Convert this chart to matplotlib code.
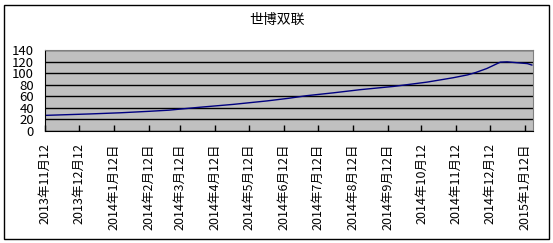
import numpy as np
import pandas as pd
import matplotlib
matplotlib.use("Agg")
import matplotlib.pyplot as plt
import matplotlib.dates as mdates
from matplotlib.patches import Rectangle

plt.rcParams['font.family'] = ['Noto Sans CJK SC', 'DejaVu Sans']

title = '世博双联'
dates = ['2013-11-12', '2013-12-22', '2014-01-18', '2014-02-12', '2014-03-02',
         '2014-03-10', '2014-03-29', '2014-04-28', '2014-05-28', '2014-06-16',
         '2014-07-02', '2014-07-26', '2014-08-19', '2014-09-17', '2014-10-17',
         '2014-11-09', '2014-11-22', '2014-11-29', '2014-12-09', '2014-12-21',
         '2014-12-27', '2015-01-05', '2015-01-14', '2015-01-18']
values = [27, 29.5, 31.5, 34, 36,
          37.5, 41, 46, 52, 56.5,
          61, 66, 71.5, 77, 84.5,
          92, 97, 101, 108, 119,
          119.5, 118, 116.5, 114]
tick_dates = ['2013-11-12', '2013-12-12', '2014-01-12', '2014-02-12', '2014-03-12',
              '2014-04-12', '2014-05-12', '2014-06-12', '2014-07-12', '2014-08-12',
              '2014-09-12', '2014-10-12', '2014-11-12', '2014-12-12', '2015-01-12']
tick_labels = ['2013年11月12', '2013年12月12', '2014年1月12日', '2014年2月12日',
               '2014年3月12日', '2014年4月12日', '2014年5月12日', '2014年6月12日',
               '2014年7月12日', '2014年8月12日', '2014年9月12日', '2014年10月12',
               '2014年11月12', '2014年12月12', '2015年1月12日']

x = pd.to_datetime(dates)
xt = pd.to_datetime(tick_dates)

fig = plt.figure(figsize=(5.53, 2.43), dpi=100)
fig.patches.append(Rectangle((4 / 553, 1 - 239 / 243), 545 / 553, 234 / 243,
                             transform=fig.transFigure, fill=False,
                             edgecolor='black', linewidth=1.0))
ax = fig.add_axes([45 / 553, 1 - 131 / 243, 488 / 553, 81 / 243])
ax.set_facecolor('#c0c0c0')

ax.plot(x, values, color='#000080', linewidth=1.0)

ax.set_xlim(pd.Timestamp('2013-11-12'), pd.Timestamp('2015-01-19'))
ax.set_ylim(0, 140)
ax.set_yticks(np.arange(0, 141, 20))
ax.grid(axis='y', color='black', linewidth=1.0)
ax.set_axisbelow(True)

ax.set_xticks(mdates.date2num(xt))
ax.set_xticklabels(tick_labels, rotation=90, fontsize=9, va='top', ha='center')
ax.tick_params(axis='x', direction='in', length=4, pad=9, width=1)
ax.tick_params(axis='y', length=0, pad=8, labelsize=9.5)

for side in ['top', 'right']:
    ax.spines[side].set_color('#808080')
for side in ['left', 'bottom']:
    ax.spines[side].set_color('black')

fig.text(277 / 553, 1 - 20 / 243, title, ha='center', va='center', fontsize=10)

fig.savefig('out.png', dpi=100)
